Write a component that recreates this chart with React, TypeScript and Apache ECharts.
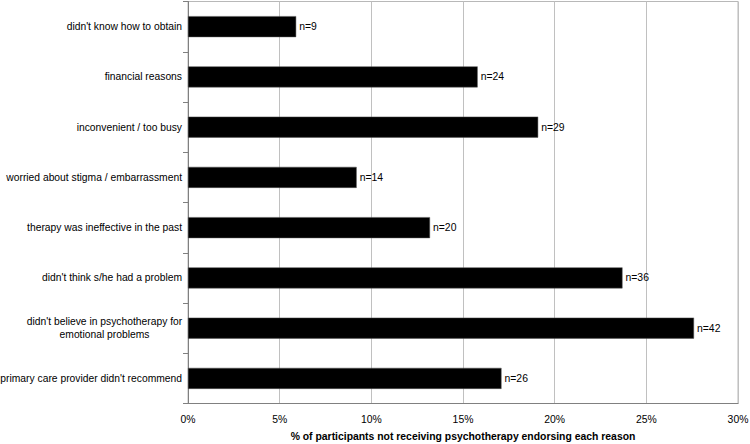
import React, { useEffect, useRef } from "react";
import * as echarts from "echarts";

const categories = [
  "didn't know how to obtain",
  "financial reasons",
  "inconvenient / too busy",
  "worried about stigma / embarrassment",
  "therapy was ineffective in the past",
  "didn't think s/he had a problem",
  "didn't believe in psychotherapy for\nemotional problems",
  "primary care provider didn't recommend",
];
const percentValues = [5.9, 15.8, 19.1, 9.2, 13.2, 23.7, 27.6, 17.1];
const counts = [9, 24, 29, 14, 20, 36, 42, 26];
const xTicks = [0, 5, 10, 15, 20, 25, 30];
const xAxisTitle = "% of participants not receiving psychotherapy endorsing each reason";

export default function App() {
  const ref = useRef<HTMLDivElement>(null);
  useEffect(() => {
    if (!ref.current) return;
    const chart = echarts.init(ref.current, null, { renderer: "svg" });
    const font = "Liberation Sans, Arial, sans-serif";
    const labelSize = 10.3;
    chart.setOption({
      animation: false,
      backgroundColor: "#ffffff",
      textStyle: { fontFamily: font },
      grid: {
        left: 188,
        right: 12,
        top: 1.5,
        bottom: 40.5,
        show: true,
        borderColor: "#b8b8b8",
        borderWidth: 1,
        containLabel: false,
        outerBoundsMode: "none",
      },
      xAxis: {
        type: "value",
        min: xTicks[0],
        max: xTicks[xTicks.length - 1],
        interval: 5,
        name: xAxisTitle,
        nameLocation: "middle",
        nameGap: 28,
        nameTextStyle: { fontFamily: font, fontSize: 10.4, fontWeight: "bold", color: "#000" },
        axisLine: { show: true, lineStyle: { color: "#808080", width: 1 } },
        axisTick: { show: false },
        splitLine: { show: true, lineStyle: { color: "#c0c0c0", width: 1 } },
        axisLabel: {
          formatter: (v: number) => v + "%",
          fontFamily: font,
          fontSize: 10.4,
          color: "#000",
          margin: 11,
        },
      },
      yAxis: {
        type: "category",
        inverse: true,
        data: categories,
        axisLine: { show: true, lineStyle: { color: "#808080", width: 1 } },
        axisTick: { show: true, length: 5, inside: false, lineStyle: { color: "#808080" } },
        splitLine: { show: false },
        axisLabel: {
          fontFamily: font,
          fontSize: labelSize,
          color: "#000",
          margin: 6,
          lineHeight: 13.4,
          formatter: (v: string) =>
            v.indexOf("\n") >= 0
              ? v
                  .split("\n")
                  .map((l) => "{c|" + l + "}")
                  .join("\n")
              : v,
          rich: {
            c: {
              fontFamily: font,
              fontSize: labelSize,
              color: "#000",
              lineHeight: 13.4,
              width: 155,
              align: "center",
            },
          },
        },
      },
      series: [
        {
          type: "bar",
          data: percentValues,
          barWidth: 21,
          itemStyle: { color: "#000", borderColor: "#555", borderWidth: 0.5 },
          label: {
            show: true,
            position: "right",
            distance: 3,
            fontFamily: font,
            fontSize: 10.4,
            color: "#000",
            formatter: (p: any) => "n=" + counts[p.dataIndex],
          },
        },
      ],
    });
    return () => chart.dispose();
  }, []);
  return <div ref={ref} style={{ width: 750, height: 444, position: "absolute", left: 0, top: 0 }} />;
}
